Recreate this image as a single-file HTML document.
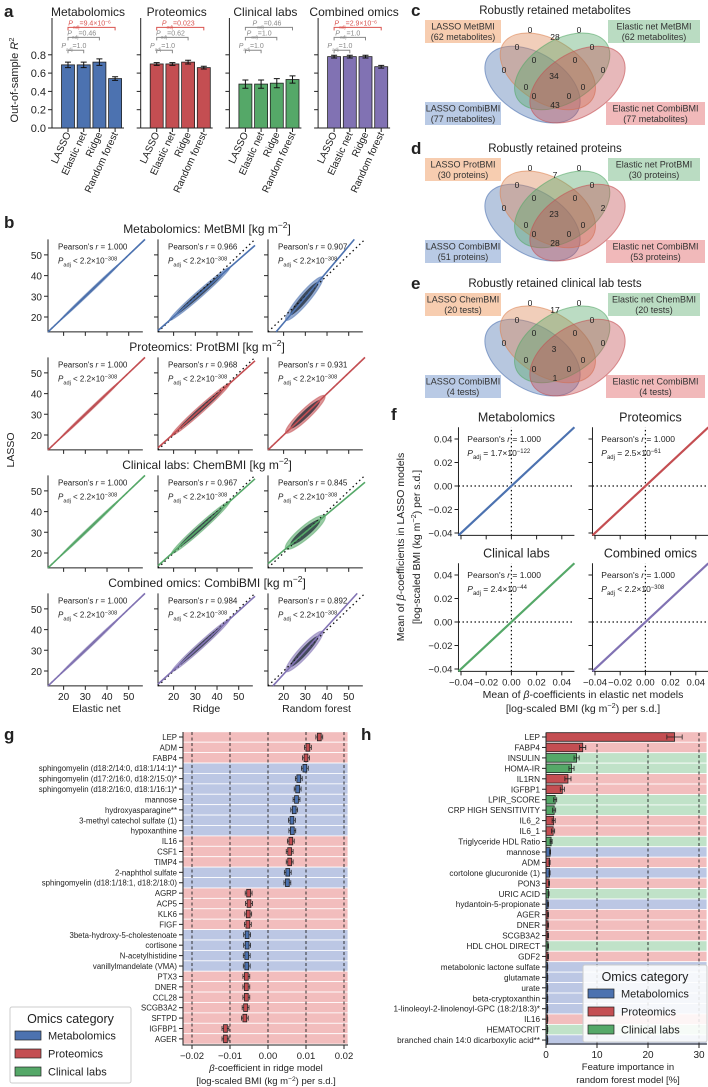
<!DOCTYPE html>
<html><head><meta charset="utf-8"><style>
html,body{margin:0;padding:0;background:#fff}
svg{display:block;font-family:"Liberation Sans",Arial,sans-serif;fill:#222}
.lt{font-weight:bold;font-size:17px}
</style></head><body>
<svg id="fig" width="708" height="1087" viewBox="0 0 708 1087">
<text class="lt" x="4" y="17">a</text>
<text class="lt" x="4" y="228">b</text>
<text class="lt" x="411" y="16">c</text>
<text class="lt" x="411" y="154">d</text>
<text class="lt" x="411" y="289">e</text>
<text class="lt" x="391" y="420">f</text>
<text class="lt" x="4" y="740">g</text>
<text class="lt" x="361" y="740">h</text>
</svg>
<script>
const NS='http://www.w3.org/2000/svg';
const svg=document.getElementById('fig');
function mk(tag,attrs,parent){const e=document.createElementNS(NS,tag);for(const k in attrs)e.setAttribute(k,attrs[k]);(parent||svg).appendChild(e);return e;}
function tx(x,y,s,size,anchor,extra){const t=mk('text',Object.assign({x:x,y:y,'font-size':size,'text-anchor':anchor||'start'},extra||{}));t.innerHTML=s;return t;}
const COL={m:'#4c72b0',p:'#c44e52',c:'#55a868',o:'#8172b3'};
const BAND={m:'#bcc7e4',p:'#f2bdbd',c:'#c0e2c8'};
const SUP=s=>'<tspan baseline-shift="super" font-size="70%">'+s+'</tspan>';
const SUB=s=>'<tspan baseline-shift="sub" font-size="70%">'+s+'</tspan>';

/* ---------- Panel a ---------- */
const aTitles=['Metabolomics','Proteomics','Clinical labs','Combined omics'];
const aColors=['m','p','c','o'];
const aModels=['LASSO','Elastic net','Ridge','Random forest'];
const aMeans=[[0.69,0.69,0.72,0.54],[0.70,0.70,0.72,0.66],[0.48,0.48,0.49,0.53],[0.78,0.78,0.78,0.67]];
const aErr=[[0.03,0.03,0.035,0.02],[0.015,0.015,0.02,0.015],[0.045,0.045,0.05,0.04],[0.015,0.015,0.015,0.015]];
const aPvals=[['1.0','0.46','9.4×10'+SUP('−6')],['1.0','0.62','0.023'],['1.0','1.0','0.46'],['1.0','1.0','2.9×10'+SUP('−6')]];
const aSig=[[0,0,1],[0,0,1],[0,0,0],[0,0,1]];
const aBracketLevels=[0.85,0.99,1.10];
const aTicks=[0,0.2,0.4,0.6,0.8];
const yA=v=>128-v*91.5;
for(let i=0;i<4;i++){
  const x0=52+i*88.7;
  const cx=j=>x0+16+j*15.7;
  let e=mk('line',{x1:x0,y1:18,x2:x0,y2:128,stroke:'#222','stroke-width':1});
  
  
  e=mk('line',{x1:x0,y1:128,x2:x0+72,y2:128,stroke:'#222','stroke-width':1});
  
  
  e=tx(x0+36,16,aTitles[i],12,'middle');
  
  
  aTicks.forEach(v=>{
    const t=mk('line',{x1:x0-4,y1:yA(v),x2:x0,y2:yA(v),stroke:'#222'});
    
    
    if(i===0){const l=tx(x0-6,yA(v)+4,v.toFixed(1),11,'end');
      
      }
  });
  for(let j=0;j<4;j++){
    const v=aMeans[i][j];
    const b=mk('rect',{x:cx(j)-6.5,y:yA(v),width:13,height:128-yA(v),fill:COL[aColors[i]],stroke:'#222','stroke-width':0.8});
    
    
    const er=aErr[i][j];
    const w=mk('path',{d:`M${cx(j)},${yA(v-er)}V${yA(v+er)}M${cx(j)-3},${yA(v-er)}h6M${cx(j)-3},${yA(v+er)}h6`,stroke:'#111','stroke-width':1,fill:'none'});
    
    
    const tk=mk('line',{x1:cx(j),y1:128,x2:cx(j),y2:132,stroke:'#222'});
    
    
    const l=tx(cx(j)+3,134,aModels[j],10,'end',{transform:`rotate(-65 ${cx(j)+3} 134)`});
    
    
  }
  for(let k=0;k<3;k++){
    const yy=yA(aBracketLevels[k]);const c=aSig[i][k]?'#d9534f':'#888';
    const br=mk('path',{d:`M${cx(0)},${yy+3}V${yy}H${cx(k+1)}V${yy+3}`,stroke:c,fill:'none','stroke-width':1});
    
    
    const l=tx((cx(0)+cx(k+1))/2-2,yy-2,'<tspan font-style="italic">P</tspan>'+SUB('adj')+'='+aPvals[i][k],7,'middle',{fill:c});
    
    
  }
}
let yl=tx(18,80,'Out-of-sample <tspan font-style="italic">R</tspan>'+SUP('2'),11,'middle',{transform:'rotate(-90 18 80)'});



/* ---------- Panel b ---------- */
const bTitles=['Metabolomics: MetBMI','Proteomics: ProtBMI','Clinical labs: ChemBMI','Combined omics: CombiBMI'];
const bColors=['m','p','c','o'];
const bXLabels=['Elastic net','Ridge','Random forest'];
const bR=[['1.000','0.966','0.907'],['1.000','0.968','0.931'],['1.000','0.967','0.845'],['1.000','0.984','0.892']];
const bSlope=[[1,0.92,1.24],[1,0.94,1.0],[1,0.94,0.88],[1,0.95,1.15]];
const bInt=[[0,1.7,-7.7],[0,1.8,0],[0,1.8,3.6],[0,1.5,-4.5]];
const bCloudXMin=[[19,19,22],[19,20,22],[19,20,22],[19,20,22]];
const bCloudXMax=[[45,45,37],[45,45,38],[45,45,38],[45,45,37]];
const bCloudSpread=[[0.6,1.6,2.6],[0.6,1.6,2.5],[0.6,1.7,3.0],[0.6,1.5,2.6]];
const bTicks=[20,30,40,50];
const BMIN=12.8,BMAX=57.5;
const bLeft=[48,158,268];
const yB=(v,r)=>317+118*r-(v-20)*2.07;
const xB=(v,c)=>bLeft[c]+(v-BMIN)*2.17;
for(let r=0;r<4;r++){
  let t=tx(207,233+118*r,bTitles[r]+' [kg m'+SUP('−2')+']',12,'middle');
  
  
  for(let c=0;c<3;c++){
    const col=COL[bColors[r]];
    let e=mk('path',{d:`M${xB(BMIN,c)},${yB(BMAX,r)}V${yB(BMIN,r)}H${xB(BMAX-1,c)}`,stroke:'#222',fill:'none'});
    
    
    bTicks.forEach(v=>{
      const a=mk('path',{d:`M${xB(BMIN,c)-4},${yB(v,r)}h4M${xB(v,c)},${yB(BMIN,r)}v4`,stroke:'#222'});
      
      
      if(c===0){const l=tx(xB(BMIN,c)-6,yB(v,r)+4,v,10,'end');
        
        }
      if(r===3){const l=tx(xB(v,c),yB(BMIN,r)+14,v,10,'middle');
        
        }
    });
    const m=bSlope[r][c],q=bInt[r][c];
    const x1=xB(bCloudXMin[r][c],c),y1=yB(m*bCloudXMin[r][c]+q,r),x2=xB(bCloudXMax[r][c],c),y2=yB(m*bCloudXMax[r][c]+q,r);
    const len=Math.hypot(x2-x1,y2-y1)/2,ang=Math.atan2(y2-y1,x2-x1)*180/Math.PI;
    const sp=bCloudSpread[r][c]*2.1;
    e=mk('ellipse',{cx:(x1+x2)/2,cy:(y1+y2)/2,rx:len+3,ry:sp,fill:col,'fill-opacity':0.6,stroke:col,'stroke-opacity':0.5,transform:`rotate(${ang} ${(x1+x2)/2} ${(y1+y2)/2})`});
    
    
    e=mk('ellipse',{cx:(x1+x2)/2,cy:(y1+y2)/2,rx:len*0.85,ry:sp*0.65,fill:'#16202c','fill-opacity':0.7,transform:`rotate(${ang} ${(x1+x2)/2} ${(y1+y2)/2})`});
    
    
    e=mk('line',{x1:xB(BMIN,c),y1:yB(BMIN,r),x2:xB(BMAX,c),y2:yB(BMAX,r),stroke:'#111','stroke-width':1.3,'stroke-dasharray':'1.5,3'});
    
    
    let xa=Math.max(BMIN,(BMIN-q)/m),xb=Math.min(BMAX,(BMAX-q)/m);
    e=mk('line',{x1:xB(xa,c),y1:yB(m*xa+q,r),x2:xB(xb,c),y2:yB(m*xb+q,r),stroke:col,'stroke-width':1.6});
    
    
    const top=yB(BMAX,r);
    e=tx(xB(BMIN,c)+10,top+10,"Pearson's <tspan font-style='italic'>r</tspan> = "+bR[r][c],8);
    
    
    e=tx(xB(BMIN,c)+10,top+24,'<tspan font-style="italic">P</tspan>'+SUB('adj')+' &lt; 2.2×10'+SUP('−308'),8);
    
    
    if(r===3){const l=tx((bLeft[c]+bLeft[c]+97)/2,yB(BMIN,r)+26,bXLabels[c],10.5,'middle');
      
      }
  }
}
yl=tx(14,450,'LASSO',10.5,'middle',{transform:'rotate(-90 14 450)'});



/* ---------- Panels c, d, e (Venn) ---------- */
const vTitles=['Robustly retained metabolites','Robustly retained proteins','Robustly retained clinical lab tests'];
const vLabTL=['LASSO MetBMI<br>(62 metabolites)','LASSO ProtBMI<br>(30 proteins)','LASSO ChemBMI<br>(20 tests)'];
const vLabTR=['Elastic net MetBMI<br>(62 metabolites)','Elastic net ProtBMI<br>(30 proteins)','Elastic net ChemBMI<br>(20 tests)'];
const vLabBL=['LASSO CombiBMI<br>(77 metabolites)','LASSO CombiBMI<br>(51 proteins)','LASSO CombiBMI<br>(4 tests)'];
const vLabBR=['Elastic net CombiBMI<br>(77 metabolites)','Elastic net CombiBMI<br>(53 proteins)','Elastic net CombiBMI<br>(4 tests)'];
const vCountsC=[0,28,0,0,0,0,0,0,34,0,0,0,0,0,43];
const vCountsD=[0,7,0,0,0,0,0,0,23,2,0,0,0,0,28];
const vCountsE=[0,17,0,0,0,0,0,0,3,0,0,0,0,0,1];
const vCounts=[vCountsC,vCountsD,vCountsE];
const vRegionPos=[[530,30],[555,37],[579,30],[517,47],[592,47],[534,60],[575,60],[504,70],[554,76],[603,70],[526,87],[583,87],[534,96],[569,96],[555,105]];
const vTop=[10,148,283];
function box(x,y,w,h,color,html,name){
  const r=mk('rect',{x:x,y:y,width:w,height:h,fill:color,'fill-opacity':0.55});
  
  
  const parts=html.split('<br>');
  parts.forEach((p,k)=>{const t=tx(x+w/2,y+9.5+k*10.5,p,9,'middle',{fill:'#333'});
    
    });
}
for(let v=0;v<3;v++){
  const T=vTop[v];
  let t=tx(555,T+4,vTitles[v],11.5,'middle');
  
  
  const g=mk('g',{transform:`translate(${555-0.497*153},${T+68+0.45*133}) scale(153,-133)`});
  
  
  const ells=[[0.35,0.4,140,COL.m],[0.45,0.5,140,'#dd8452'],[0.544,0.5,40,COL.c],[0.644,0.4,40,COL.p]];
  const enames=['lasso-combi','lasso-single','enet-single','enet-combi'];
  ells.forEach((E,k)=>{
    const el=mk('ellipse',{cx:0,cy:0,rx:0.36,ry:0.225,fill:E[3],'fill-opacity':0.4,stroke:E[3],'stroke-opacity':0.6,'vector-effect':'non-scaling-stroke',transform:`translate(${E[0]},${E[1]}) rotate(${E[2]})`},g);
    
    
  });
  vRegionPos.forEach((p,k)=>{
    const n=tx(p[0],p[1]-10+T+3,vCounts[v][k],8.5,'middle',{fill:'#222'});
    
    
  });
  box(425,T+10,76,23,'#f0a470',vLabTL[v],'venn-label-lasso-single');
  box(608,T+10,92,23,'#82c08f',vLabTR[v],'venn-label-enet-single');
  box(425,T+92,76,23,'#7f9fd0',vLabBL[v],'venn-label-lasso-combi');
  box(606,T+92,99,23,'#e57f82',vLabBR[v],'venn-label-enet-combi');
}

/* ---------- Panel f ---------- */
const fTitles=['Metabolomics','Proteomics','Clinical labs','Combined omics'];
const fColors=['m','p','c','o'];
const fP=['= 1.7×10'+SUP('−122'),'= 2.5×10'+SUP('−61'),'= 2.4×10'+SUP('−44'),'&lt; 2.2×10'+SUP('−308')];
const fLineStart=[-0.042,-0.042,-0.042,-0.042];
const fLineEnd=[0.05,0.05,0.05,0.05];
const fTicks=[-0.04,-0.02,0,0.02,0.04];
const fTickLabels=['−0.04','−0.02','0.00','0.02','0.04'];
const yF=(v,r)=>(r?669:533)-(v+0.04)*1175;
const xF=(v,c)=>(c?595:461)+(v+0.04)*1260;
for(let k=0;k<4;k++){
  const r=Math.floor(k/2),c=k%2;
  let e=mk('path',{d:`M${xF(-0.042,c)},${yF(0.05,r)}V${yF(-0.042,r)}H${xF(0.05,c)}`,stroke:'#222',fill:'none'});
  
  
  e=tx(xF(0.004,c),yF(0.05,r)-6,fTitles[k],12.5,'middle');
  
  
  fTicks.forEach((v,i)=>{
    const a=mk('path',{d:`M${xF(-0.042,c)-4},${yF(v,r)}h4M${xF(v,c)},${yF(-0.042,r)}v4`,stroke:'#222'});
    
    
    if(c===0){const l=tx(xF(-0.042,c)-6,yF(v,r)+3.5,fTickLabels[i],9.5,'end');
      
      }
    if(r===1){const l=tx(xF(v,c),yF(-0.042,r)+14,fTickLabels[i],9.5,'middle');
      
      }
  });
  e=mk('path',{d:`M${xF(-0.042,c)},${yF(0,r)}H${xF(0.05,c)}M${xF(0,c)},${yF(-0.042,r)}V${yF(0.05,r)}`,stroke:'#111','stroke-dasharray':'1.5,2.5','stroke-width':1.2});
  
  
  e=mk('line',{x1:xF(fLineStart[k],c),y1:yF(fLineStart[k],r),x2:xF(fLineEnd[k],c),y2:yF(fLineEnd[k],r),stroke:COL[fColors[k]],'stroke-width':2.2});
  
  
  e=tx(xF(-0.035,c),yF(0.04,r)+3,"Pearson's <tspan font-style='italic'>r</tspan> = 1.000",8.5);
  
  
  e=tx(xF(-0.035,c),yF(0.04,r)+17,'<tspan font-style="italic">P</tspan>'+SUB('adj')+' '+fP[k],8.5);
  
  
}
yl=tx(404,547,'Mean of <tspan font-style="italic">β</tspan>-coefficients in LASSO models',10.5,'middle',{transform:'rotate(-90 404 547)'});


yl=tx(420,547,'[log-scaled BMI (kg m'+SUP('−2')+') per s.d.]',10.5,'middle',{transform:'rotate(-90 420 547)'});


yl=tx(583,698,'Mean of <tspan font-style="italic">β</tspan>-coefficients in elastic net models',10.5,'middle');


yl=tx(583,712,'[log-scaled BMI (kg m'+SUP('−2')+') per s.d.]',10.5,'middle');



/* ---------- Panel g ---------- */
const gNames=['LEP','ADM','FABP4','sphingomyelin (d18:2/14:0, d18:1/14:1)*','sphingomyelin (d17:2/16:0, d18:2/15:0)*','sphingomyelin (d18:2/16:0, d18:1/16:1)*','mannose','hydroxyasparagine**','3-methyl catechol sulfate (1)','hypoxanthine','IL16','CSF1','TIMP4','2-naphthol sulfate','sphingomyelin (d18:1/18:1, d18:2/18:0)','AGRP','ACP5','KLK6','FIGF','3beta-hydroxy-5-cholestenoate','cortisone','N-acetylhistidine','vanillylmandelate (VMA)','PTX3','DNER','CCL28','SCGB3A2','SFTPD','IGFBP1','AGER'];
const gValues=[0.0135,0.0105,0.0100,0.0097,0.0081,0.0078,0.0075,0.0069,0.0063,0.0064,0.0060,0.0057,0.0057,0.0052,0.0051,-0.0051,-0.0050,-0.0052,-0.0053,-0.0055,-0.0055,-0.0056,-0.0056,-0.0057,-0.0057,-0.0057,-0.0059,-0.0061,-0.0112,-0.0112];
const gCats=['p','p','p','m','m','m','m','m','m','m','p','p','p','m','m','p','p','p','p','m','m','m','m','p','p','p','p','p','p','p'];
const gTicks=[-0.02,-0.01,0,0.01,0.02];
const gTickLabels=['−0.02','−0.01','0.00','0.01','0.02'];
const yG=i=>737+i*10.41;
const xG=v=>268+v*3800;
gNames.forEach((n,i)=>{
  let e=mk('rect',{x:183,y:yG(i)-5.2,width:165,height:10.41,fill:BAND[gCats[i]],stroke:'#fff','stroke-width':0.8});
  
  
});
gTicks.forEach((v,i)=>{
  let e=mk('line',{x1:xG(v),y1:732,x2:xG(v),y2:1045,stroke:'#222','stroke-dasharray':'3,2.5','stroke-width':0.9});
  
  
  e=mk('line',{x1:xG(v),y1:1045,x2:xG(v),y2:1049,stroke:'#222'});
  
  
  e=tx(xG(v),1059,gTickLabels[i],9.5,'middle');
  
  
});
let ax=mk('path',{d:'M183,732V1045H348',stroke:'#222',fill:'none'});


gNames.forEach((n,i)=>{
  const v=gValues[i],y=yG(i),col=COL[gCats[i]];
  let e=mk('path',{d:`M${xG(v-0.0009)},${y}H${xG(v+0.0009)}M${xG(v-0.0009)},${y-2.5}v5M${xG(v+0.0009)},${y-2.5}v5`,stroke:'#222','stroke-width':0.8});
  
  
  e=mk('rect',{x:xG(v-0.0005),y:y-3.8,width:0.001*3800,height:7.6,fill:col,stroke:'#222','stroke-width':0.8});
  
  
  e=mk('line',{x1:179,y1:y,x2:183,y2:y,stroke:'#222'});
  
  
  e=tx(177,y+3,n,7.8,'end');
  
  
});
yl=tx(266,1071,'<tspan font-style="italic">β</tspan>-coefficient in ridge model',9.5,'middle');


yl=tx(266,1084,'[log-scaled BMI (kg m'+SUP('−2')+') per s.d.]',9.5,'middle');


function legend(x,y,w,h,name){
  const r=mk('rect',{x:x,y:y,width:w,height:h,fill:'#fff','fill-opacity':0.85,stroke:'#ccc',rx:2});
  
  
  const t=tx(x+w/2,y+16,'Omics category',12.5,'middle');
  
  
  [['m','Metabolomics'],['p','Proteomics'],['c','Clinical labs']].forEach((it,k)=>{
    const p=mk('rect',{x:x+5,y:y+24+k*18,width:26,height:9,fill:COL[it[0]],stroke:'#222','stroke-width':0.7});
    
    
    const l=tx(x+38,y+32.5+k*18,it[1],11);
    
    
  });
}
legend(10,1007,121,76,'panel-g-legend');

/* ---------- Panel h ---------- */
const hNames=['LEP','FABP4','INSULIN','HOMA-IR','IL1RN','IGFBP1','LPIR_SCORE','CRP HIGH SENSITIVITY','IL6_2','IL6_1','Triglyceride HDL Ratio','mannose','ADM','cortolone glucuronide (1)','PON3','URIC ACID','hydantoin-5-propionate','AGER','DNER','SCGB3A2','HDL CHOL DIRECT','GDF2','metabolonic lactone sulfate','glutamate','urate','beta-cryptoxanthin','1-linoleoyl-2-linolenoyl-GPC (18:2/18:3)*','IL16','HEMATOCRIT','branched chain 14:0 dicarboxylic acid**'];
const hValues=[25.2,7.2,6.0,5.0,4.3,3.2,1.8,1.6,1.5,1.4,1.0,0.8,0.7,0.7,0.6,0.5,0.4,0.4,0.4,0.4,0.4,0.4,0.3,0.3,0.3,0.3,0.3,0.3,0.3,0.3];
const hErr=[1.5,0.6,0.5,0.5,0.6,0.4,0.3,0.3,0.3,0.3,0.2,0.1,0.1,0.1,0.1,0.1,0.1,0.1,0.1,0.1,0.1,0.1,0.05,0.05,0.05,0.05,0.05,0.05,0.05,0.05];
const hCats=['p','p','c','c','p','p','c','c','p','p','c','m','p','m','p','c','m','p','p','p','c','p','m','m','m','m','m','p','c','m'];
const hTicks=[0,10,20,30];
const yH=i=>737+i*10.45;
const xH=v=>546+v*5.1;
hNames.forEach((n,i)=>{
  let e=mk('rect',{x:546,y:yH(i)-5.2,width:161,height:10.45,fill:BAND[hCats[i]],stroke:'#fff','stroke-width':0.8});
  
  
});
hTicks.forEach(v=>{
  let e;
  if(v>0){e=mk('line',{x1:xH(v),y1:733,x2:xH(v),y2:1044,stroke:'#222','stroke-dasharray':'3,2.5','stroke-width':0.9});
  
  }
  e=mk('line',{x1:xH(v),y1:1044,x2:xH(v),y2:1048,stroke:'#222'});
  
  
  e=tx(xH(v),1058,v,10,'middle');
  
  
});
hNames.forEach((n,i)=>{
  const v=hValues[i],y=yH(i);
  let e=mk('rect',{x:546,y:y-4.3,width:xH(v)-546,height:8.6,fill:COL[hCats[i]],stroke:'#222','stroke-width':0.8});
  
  
  const er=hErr[i];
  e=mk('path',{d:`M${xH(v-er)},${y}H${xH(v+er)}M${xH(v-er)},${y-2.5}v5M${xH(v+er)},${y-2.5}v5`,stroke:'#222','stroke-width':0.8});
  
  
  e=mk('line',{x1:542,y1:y,x2:546,y2:y,stroke:'#222'});
  
  
  e=tx(540,y+3,n,8.2,'end');
  
  
});
ax=mk('path',{d:'M546,733V1044H707',stroke:'#222',fill:'none'});


legend(583,965,124,77,'panel-h-legend');
yl=tx(628,1070,'Feature importance in',9.5,'middle');


yl=tx(628,1083,'random forest model [%]',9.5,'middle');


</script>
</body></html>
